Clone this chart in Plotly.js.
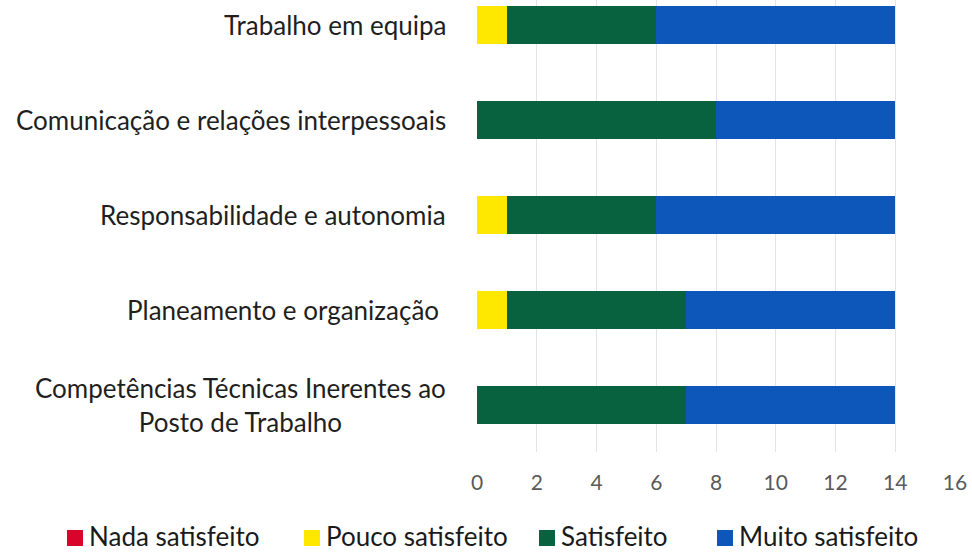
<!DOCTYPE html>
<html><head><meta charset="utf-8">
<script src="https://cdn.plot.ly/plotly-3.0.1.min.js"></script>
<style>html,body{margin:0;padding:0;background:#fff}#chart{width:972px;height:553px}</style>
</head><body><div id="chart"></div>
<script>
const categories = ["Competências Técnicas Inerentes ao<br>Posto de Trabalho", "Planeamento e organização ", "Responsabilidade e autonomia", "Comunicação e relações interpessoais", "Trabalho em equipa"];
const nadaSatisfeito = [0, 0, 0, 0, 0];
const poucoSatisfeito = [0, 1, 1, 0, 1];
const satisfeito = [7, 6, 5, 8, 5];
const muitoSatisfeito = [7, 7, 8, 6, 8];
const seriesNames = ["Nada satisfeito", "Pouco satisfeito", "Satisfeito", "Muito satisfeito"];
const colors = ["#D9042B", "#FFE800", "#08613F", "#0E57BA"];
const xTicks = [0, 2, 4, 6, 8, 10, 12, 14, 16];

const W = 972, H = 553, L = 477, R = 17, T = 0, B = 101;
const pw = W - L - R, ph = H - T - B;
const px2x = p => (p - L) / pw;
const px2y = p => (H - B - p) / ph;

const idx = categories.map((_, i) => i);
const series = [nadaSatisfeito, poucoSatisfeito, satisfeito, muitoSatisfeito];
const traces = series.map((vals, k) => ({
  type: 'bar', orientation: 'h', name: seriesNames[k], x: vals, y: idx,
  marker: {color: colors[k]}, width: 0.4, hoverinfo: 'x+name', showlegend: false
}));

const annotations = categories.map((c, i) => ({
  xref: 'paper', yref: 'y', x: 0, y: i, xanchor: 'right', yanchor: 'middle',
  xshift: -29, text: c, showarrow: false, align: 'center',
  font: {family: 'Lato, sans-serif', size: 26, color: '#1f1f1f'}
}));

// manual legend, one row at the bottom
const legendStarts = [67, 304, 539, 717];
const shapes = [];
seriesNames.forEach((n, k) => {
  const x0 = legendStarts[k];
  shapes.push({type: 'rect', xref: 'paper', yref: 'paper', x0: px2x(x0), x1: px2x(x0 + 16),
    y0: px2y(546), y1: px2y(530), fillcolor: colors[k], line: {width: 0}});
  annotations.push({xref: 'paper', yref: 'paper', x: px2x(x0 + 20), y: px2y(536), xanchor: 'left', yanchor: 'middle',
    text: n, showarrow: false, font: {family: 'Lato, sans-serif', size: 26, color: '#1a1a1a'}});
});

const layout = {
  width: W, height: H,
  margin: {l: L, r: R, t: T, b: B},
  barmode: 'stack',
  paper_bgcolor: '#fff', plot_bgcolor: '#fff',
  showlegend: false,
  xaxis: {range: [0, 16], tickvals: xTicks, ticktext: xTicks.map(String), showgrid: true, gridcolor: '#e3e3ea', gridwidth: 1,
    zeroline: false, showline: false, ticks: '', tickfont: {family: 'Lato, sans-serif', size: 21, color: '#5a5a5a'}, ticklabelstandoff: 16},
  yaxis: {type: 'linear', range: [-0.5, 4.263], showticklabels: false, showgrid: false, zeroline: false, showline: false, ticks: ''},
  annotations: annotations,
  shapes: shapes
};
Plotly.newPlot('chart', traces, layout, {displayModeBar: false, staticPlot: true});
</script></body></html>
